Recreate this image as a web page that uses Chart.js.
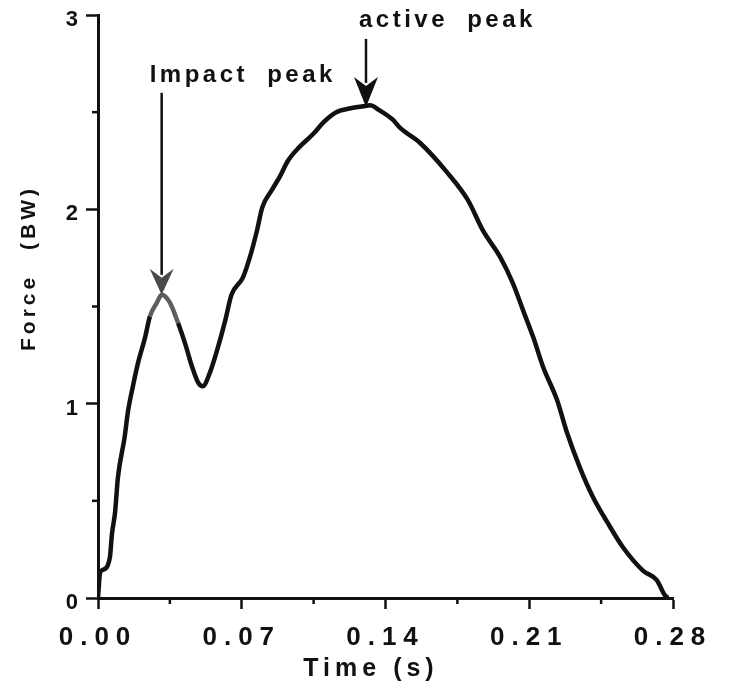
<!DOCTYPE html>
<html lang="en">
<head>
    <meta charset="UTF-8">
    <title>Force vs Time</title>
    <script src="https://cdn.jsdelivr.net/npm/chart.js"></script>
    <style>
        body {
            margin: 0;
            padding: 0;
            background: #ffffff;
        }
        #force-chart {
            display: block;
        }
    </style>
</head>
<body>
    <canvas id="force-chart" width="732" height="691"></canvas>

    <script>
        // Curve: time (s) and force (body weights)
        const times = [0, 0.001, 0.0024, 0.0058, 0.0068, 0.0083, 0.0097, 0.013, 0.0146, 0.017, 0.0195,
            0.0229, 0.0253, 0.0287, 0.031, 0.035, 0.039, 0.0424, 0.0458, 0.0487, 0.051,
            0.0545, 0.0584, 0.062, 0.065, 0.0706, 0.074, 0.0774, 0.080, 0.0847, 0.0886,
            0.0925, 0.098, 0.105, 0.110, 0.116, 0.123, 0.129, 0.1325, 0.137, 0.1437,
            0.147, 0.157, 0.170, 0.180, 0.1875, 0.1958, 0.202, 0.207, 0.212, 0.2167,
            0.2235, 0.2284, 0.2347, 0.241, 0.248, 0.2557, 0.2655, 0.272, 0.276, 0.2775];
        const forces = [0, 0.13, 0.145, 0.21, 0.33, 0.44, 0.62, 0.83, 0.96, 1.09, 1.21,
            1.34, 1.45, 1.52, 1.56, 1.52, 1.415, 1.31, 1.19, 1.11, 1.09,
            1.16, 1.29, 1.43, 1.56, 1.65, 1.755, 1.89, 2.01, 2.10, 2.17,
            2.25, 2.32, 2.39, 2.45, 2.50, 2.52, 2.53, 2.535, 2.51, 2.46,
            2.42, 2.34, 2.19, 2.05, 1.89, 1.755, 1.62, 1.48, 1.34, 1.19,
            1.02, 0.85, 0.67, 0.52, 0.39, 0.26, 0.14, 0.093, 0.015, 0];

        // Axes
        const xTickLabels = ["0.00", "0.07", "0.14", "0.21", "0.28"];
        const yTickLabels = ["0", "1", "2", "3"];
        const xTitle = "Time (s)";
        const yTitle = "Force (BW)";

        // Peak annotations (arrow tips in data units)
        const peakLabels = ["Impact peak", "active peak"];
        const peakTimes = [0.031, 0.1305];
        const peakForces = [1.56, 2.527];

        const ink = "#111111";
        const fontFamily = "'Liberation Sans', Arial, sans-serif";

        const points = times.map((t, i) => ({ x: t, y: forces[i] }));

        // draw short minor ticks, axis titles and the peak arrows
        const extrasPlugin = {
            id: "extras",
            beforeDraw(chart) {
                chart.ctx.letterSpacing = "7px";
            },
            afterDraw(chart) {
                const ctx = chart.ctx;
                const xs = chart.scales.x;
                const ys = chart.scales.y;
                const area = chart.chartArea;

                ctx.save();
                ctx.strokeStyle = ink;
                ctx.lineWidth = 2.5;
                xs.ticks.forEach((t, i) => {
                    if (i % 2 === 1) {
                        const px = xs.getPixelForValue(t.value);
                        ctx.beginPath();
                        ctx.moveTo(px, area.bottom);
                        ctx.lineTo(px, area.bottom + 6);
                        ctx.stroke();
                    }
                });
                ys.ticks.forEach((t, i) => {
                    if (i % 2 === 1) {
                        const py = ys.getPixelForValue(t.value);
                        ctx.beginPath();
                        ctx.moveTo(area.left - 6, py);
                        ctx.lineTo(area.left, py);
                        ctx.stroke();
                    }
                });

                // axis titles
                ctx.fillStyle = ink;
                ctx.letterSpacing = "5px";
                ctx.font = "bold 25px " + fontFamily;
                ctx.textAlign = "center";
                ctx.textBaseline = "alphabetic";
                ctx.fillText(xTitle, 371, 676);

                ctx.save();
                ctx.translate(35, 268);
                ctx.rotate(-Math.PI / 2);
                ctx.font = "bold 21px " + fontFamily;
                ctx.letterSpacing = "4px";
                ctx.wordSpacing = "14px";
                ctx.fillText(yTitle, 0, 0);
                ctx.restore();

                // arrows + labels
                const shaftLen = [202, 68];
                const headLen = [26, 30];
                const headCol = ["#4a4a4a", ink];
                const textDx = [-12, -7];
                const textDy = [-213, -80];
                ctx.font = "bold 24px " + fontFamily;
                ctx.letterSpacing = "3.5px";
                ctx.wordSpacing = "9px";
                ctx.textAlign = "left";
                peakLabels.forEach((label, i) => {
                    const tx = xs.getPixelForValue(peakTimes[i]);
                    const ty = ys.getPixelForValue(peakForces[i]);
                    ctx.strokeStyle = ink;
                    ctx.lineWidth = 2.5;
                    ctx.beginPath();
                    ctx.moveTo(tx, ty - shaftLen[i]);
                    ctx.lineTo(tx, ty - headLen[i] + 6);
                    ctx.stroke();

                    ctx.fillStyle = headCol[i];
                    ctx.beginPath();
                    ctx.moveTo(tx, ty);
                    ctx.lineTo(tx - 12, ty - headLen[i]);
                    ctx.lineTo(tx, ty - headLen[i] + 9);
                    ctx.lineTo(tx + 12, ty - headLen[i]);
                    ctx.closePath();
                    ctx.fill();

                    ctx.fillStyle = ink;
                    ctx.fillText(label, tx + textDx[i], ty + textDy[i]);
                });
                ctx.restore();
            }
        };

        new Chart(document.getElementById("force-chart").getContext("2d"), {
            type: "line",
            data: {
                datasets: [{
                    data: points,
                    borderColor: ink,
                    borderWidth: 4.5,
                    pointRadius: 0,
                    fill: false,
                    cubicInterpolationMode: "monotone",
                    segment: {
                        // the impact peak prints lighter in the source
                        borderColor: c => (c.p0.parsed.x >= 0.0253 && c.p1.parsed.x <= 0.039) ? "#5e5e5e" : ink
                    }
                }]
            },
            options: {
                responsive: false,
                animation: false,
                layout: { padding: { left: 0, top: 15, right: 59, bottom: 0 } },
                plugins: {
                    legend: { display: false },
                    tooltip: { enabled: false }
                },
                scales: {
                    x: {
                        type: "linear",
                        min: 0,
                        max: 0.28,
                        afterFit: s => { s.height = 93; },
                        border: { display: true, color: ink, width: 3 },
                        grid: {
                            drawOnChartArea: false,
                            drawTicks: true,
                            tickLength: 11,
                            tickWidth: 2.5,
                            tickColor: c => c.index % 2 === 0 ? ink : "rgba(0,0,0,0)"
                        },
                        ticks: {
                            stepSize: 0.035,
                            autoSkip: false,
                            maxRotation: 0,
                            padding: 13,
                            color: ink,
                            font: { family: fontFamily, size: 26, weight: "bold" },
                            callback: (v, i) => i % 2 === 0 ? xTickLabels[i / 2] : ""
                        }
                    },
                    y: {
                        min: 0,
                        max: 3,
                        afterFit: s => { s.width = 98; },
                        border: { display: true, color: ink, width: 3 },
                        grid: {
                            drawOnChartArea: false,
                            drawTicks: true,
                            tickLength: 12,
                            tickWidth: 2.5,
                            tickColor: c => c.index % 2 === 0 ? ink : "rgba(0,0,0,0)"
                        },
                        ticks: {
                            stepSize: 0.5,
                            autoSkip: false,
                            padding: 1,
                            labelOffset: 5,
                            color: ink,
                            font: { family: fontFamily, size: 22, weight: "bold" },
                            callback: (v, i) => i % 2 === 0 ? yTickLabels[i / 2] : ""
                        }
                    }
                }
            },
            plugins: [extrasPlugin]
        });
    </script>
</body>
</html>
